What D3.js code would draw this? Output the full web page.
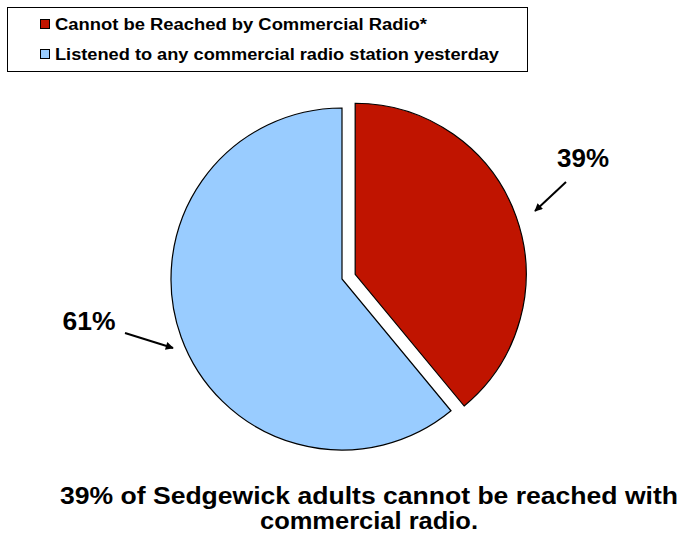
<!DOCTYPE html>
<html>
<head>
<meta charset="utf-8">
<script src="https://cdn.jsdelivr.net/npm/d3@7"></script>
<style>
  html, body { margin: 0; padding: 0; background: #fff; }
  svg { display: block; font-family: "Liberation Sans", Arial, sans-serif; }
</style>
</head>
<body>
<svg id="chart" width="679" height="541"></svg>
<script>
// Audience split for commercial radio reach
const categories = ["Cannot be Reached by Commercial Radio*", "Listened to any commercial radio station yesterday"];
const values = [39, 61];
const valueLabels = ["39%", "61%"];
const colors = ["#C01400", "#99CCFF"];
const titleLines = ["39% of Sedgewick adults cannot be reached with", "commercial radio."];

const svg = d3.select("#chart");

// Legend box (text is drawn slightly wide, as in the original slide)
const legendWidths = [372, 444];
const legend = svg.append("g");
legend.append("rect")
  .attr("x", 7.5).attr("y", 7.5).attr("width", 520).attr("height", 64)
  .attr("fill", "#fff").attr("stroke", "#000").attr("stroke-width", 1);
categories.forEach((c, i) => {
  const y = 19 + i * 30;
  legend.append("rect")
    .attr("x", 40.5).attr("y", y + 0.5).attr("width", 9).attr("height", 9)
    .attr("fill", colors[i]).attr("stroke", "#000").attr("stroke-width", 1);
  legend.append("text")
    .attr("x", 55).attr("y", y + 11)
    .attr("font-size", 16).attr("font-weight", "bold")
    .attr("textLength", legendWidths[i]).attr("lengthAdjust", "spacingAndGlyphs")
    .text(c);
});

// Pie geometry
const cx = 342, cy = 279, r = 171, explode = 14;
const pie = d3.pie().sort(null).value(d => d)(values);
const arc = d3.arc().innerRadius(0).outerRadius(r);

const g = svg.append("g").attr("transform", `translate(${cx},${cy})`);
g.selectAll("path")
  .data(pie)
  .join("path")
  .attr("transform", (d, i) => {
    if (i !== 0) return null;
    const a = (d.startAngle + d.endAngle) / 2;
    return `translate(${Math.sin(a) * explode},${-Math.cos(a) * explode})`;
  })
  .attr("d", arc)
  .attr("fill", (d, i) => colors[i])
  .attr("stroke", "#000")
  .attr("stroke-width", 1.2)
  .attr("stroke-linejoin", "miter");

// Arrow marker
svg.append("defs").append("marker")
  .attr("id", "arrow")
  .attr("viewBox", "0 0 10 10")
  .attr("refX", 9).attr("refY", 5)
  .attr("markerWidth", 9).attr("markerHeight", 8)
  .attr("markerUnits", "userSpaceOnUse")
  .attr("orient", "auto")
  .append("path").attr("d", "M0,0 L10,5 L0,10 z").attr("fill", "#000");

// Value labels with pointer arrows
const labelPos = [
  { x: 583, y: 167, w: 52, from: [566, 182], to: [535, 211] },
  { x: 89, y: 330, w: 53, from: [125, 333], to: [173, 348] }
];
labelPos.forEach((p, i) => {
  svg.append("text")
    .attr("x", p.x).attr("y", p.y)
    .attr("text-anchor", "middle")
    .attr("font-size", 25).attr("font-weight", "bold")
    .attr("textLength", p.w).attr("lengthAdjust", "spacingAndGlyphs")
    .text(valueLabels[i]);
  svg.append("line")
    .attr("x1", p.from[0]).attr("y1", p.from[1])
    .attr("x2", p.to[0]).attr("y2", p.to[1])
    .attr("stroke", "#000").attr("stroke-width", 2)
    .attr("marker-end", "url(#arrow)");
});

// Caption
const titleWidths = [618, 218];
titleLines.forEach((t, i) => {
  svg.append("text")
    .attr("x", 369).attr("y", 504 + i * 25)
    .attr("text-anchor", "middle")
    .attr("font-size", 23).attr("font-weight", "bold")
    .attr("textLength", titleWidths[i]).attr("lengthAdjust", "spacingAndGlyphs")
    .text(t);
});
</script>
</body>
</html>
